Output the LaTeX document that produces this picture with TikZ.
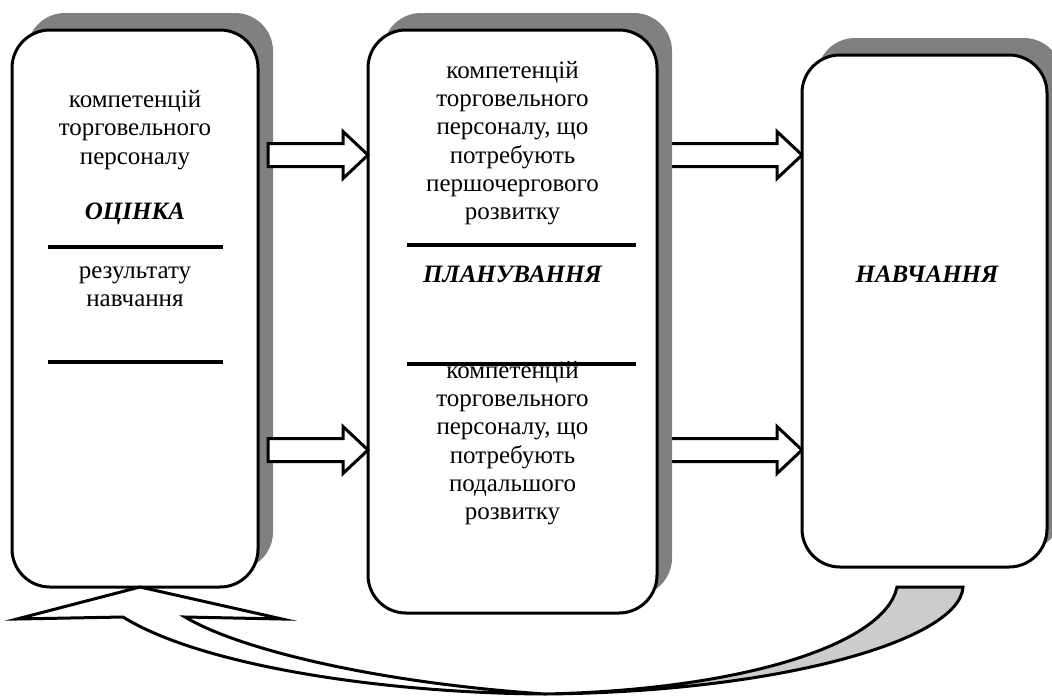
\documentclass[tikz,border=0pt]{standalone}
\usepackage{fontspec}
\setmainfont{Liberation Serif}
\usetikzlibrary{shadows,calc}
\definecolor{shadowgray}{RGB}{128,128,128}
\definecolor{tailgray}{RGB}{204,204,204}
\tikzset{
  box/.style={draw, line width=3pt, fill=white, rounded corners=38pt, outer sep=0pt, inner sep=0pt,
    general shadow={fill=shadowgray, shadow xshift=15pt, shadow yshift=17pt}},
  barrow/.style={draw, fill=white, line width=3pt, line join=miter},
  sepline/.style={line width=3.5pt},
  txt/.style={font=\fontsize{25}{28.3}\selectfont, align=center, inner sep=0pt},
  ttl/.style={font=\fontsize{25}{28.3}\selectfont\bfseries\itshape, inner sep=0pt},
  curvearrow/.style={draw, line width=3pt, line join=miter},
}
\newcommand\blockarrow[2]{%
  \draw[barrow] let \p1=(#1), \p2=(#2) in
   (\x1,\y1+11.5pt) -- (\x2-25pt,\y1+11.5pt) -- (\x2-25pt,\y1+23.5pt) -- (\x2,\y1)
   -- (\x2-25pt,\y1-23.5pt) -- (\x2-25pt,\y1-11.5pt) -- (\x1,\y1-11.5pt) -- cycle;}
\begin{document}
\begin{tikzpicture}[x=1pt,y=-1pt]
\useasboundingbox (0,0) rectangle (1052,697);
% right arrows (behind middle box shadow)
\coordinate (r1s) at (660,155);
\coordinate (r2s) at (660,450);
\coordinate (r1t) at (802,155);
\coordinate (r2t) at (802,450);
\blockarrow{r1s}{r1t}
\blockarrow{r2s}{r2t}
% boxes
\node[box, minimum width=246pt, minimum height=557pt] (left) at (135,308.5) {};
\node[box, minimum width=289pt, minimum height=583pt] (mid) at (512.5,321.5) {};
\node[box, minimum width=245pt, minimum height=512pt] (right) at (924.5,311) {};
% left arrows
\coordinate (l1s) at (268,155);
\coordinate (l2s) at (268,450);
\blockarrow{l1s}{mid.west |- l1s}
\blockarrow{l2s}{mid.west |- l2s}
% separators
\draw[sepline] (48,247) -- (223,247);
\draw[sepline] (48,362) -- (223,362);
\draw[sepline] (407,245) -- (636,245);
\draw[sepline] (407,364) -- (636,364);
% texts
\node[txt] (lt) at (135,130) {компетенцій\\торговельного\\персоналу};
\node[ttl] (lh) at (135,214) {ОЦІНКА};
\node[txt] (lb) at (135,287) {результату\\навчання};
\node[txt] (mt) at (512.5,143) {компетенцій\\торговельного\\персоналу, що\\потребують\\першочергового\\розвитку};
\node[ttl] (mh) at (512.5,274.5) {ПЛАНУВАННЯ};
\node[txt] (mb) at (512.5,443) {компетенцій\\торговельного\\персоналу, що\\потребують\\подальшого\\розвитку};
\node[ttl] (rh) at (927,274) {НАВЧАННЯ};
% curved return arrow
\coordinate (P) at (545,694);
\filldraw[curvearrow, fill=white] (123,617) -- (17,619) -- (140,587) -- (282,619) -- (185,617)
   .. controls (240,650) and (380,683) .. (P)
   .. controls (380,693) and (200,665) .. (123,617) -- cycle;
\filldraw[curvearrow, fill=tailgray] (P) .. controls (780,692) and (960,640) .. (963,587)
   -- (897,587) .. controls (885,645) and (740,690) .. (P) -- cycle;
\end{tikzpicture}
\end{document}
